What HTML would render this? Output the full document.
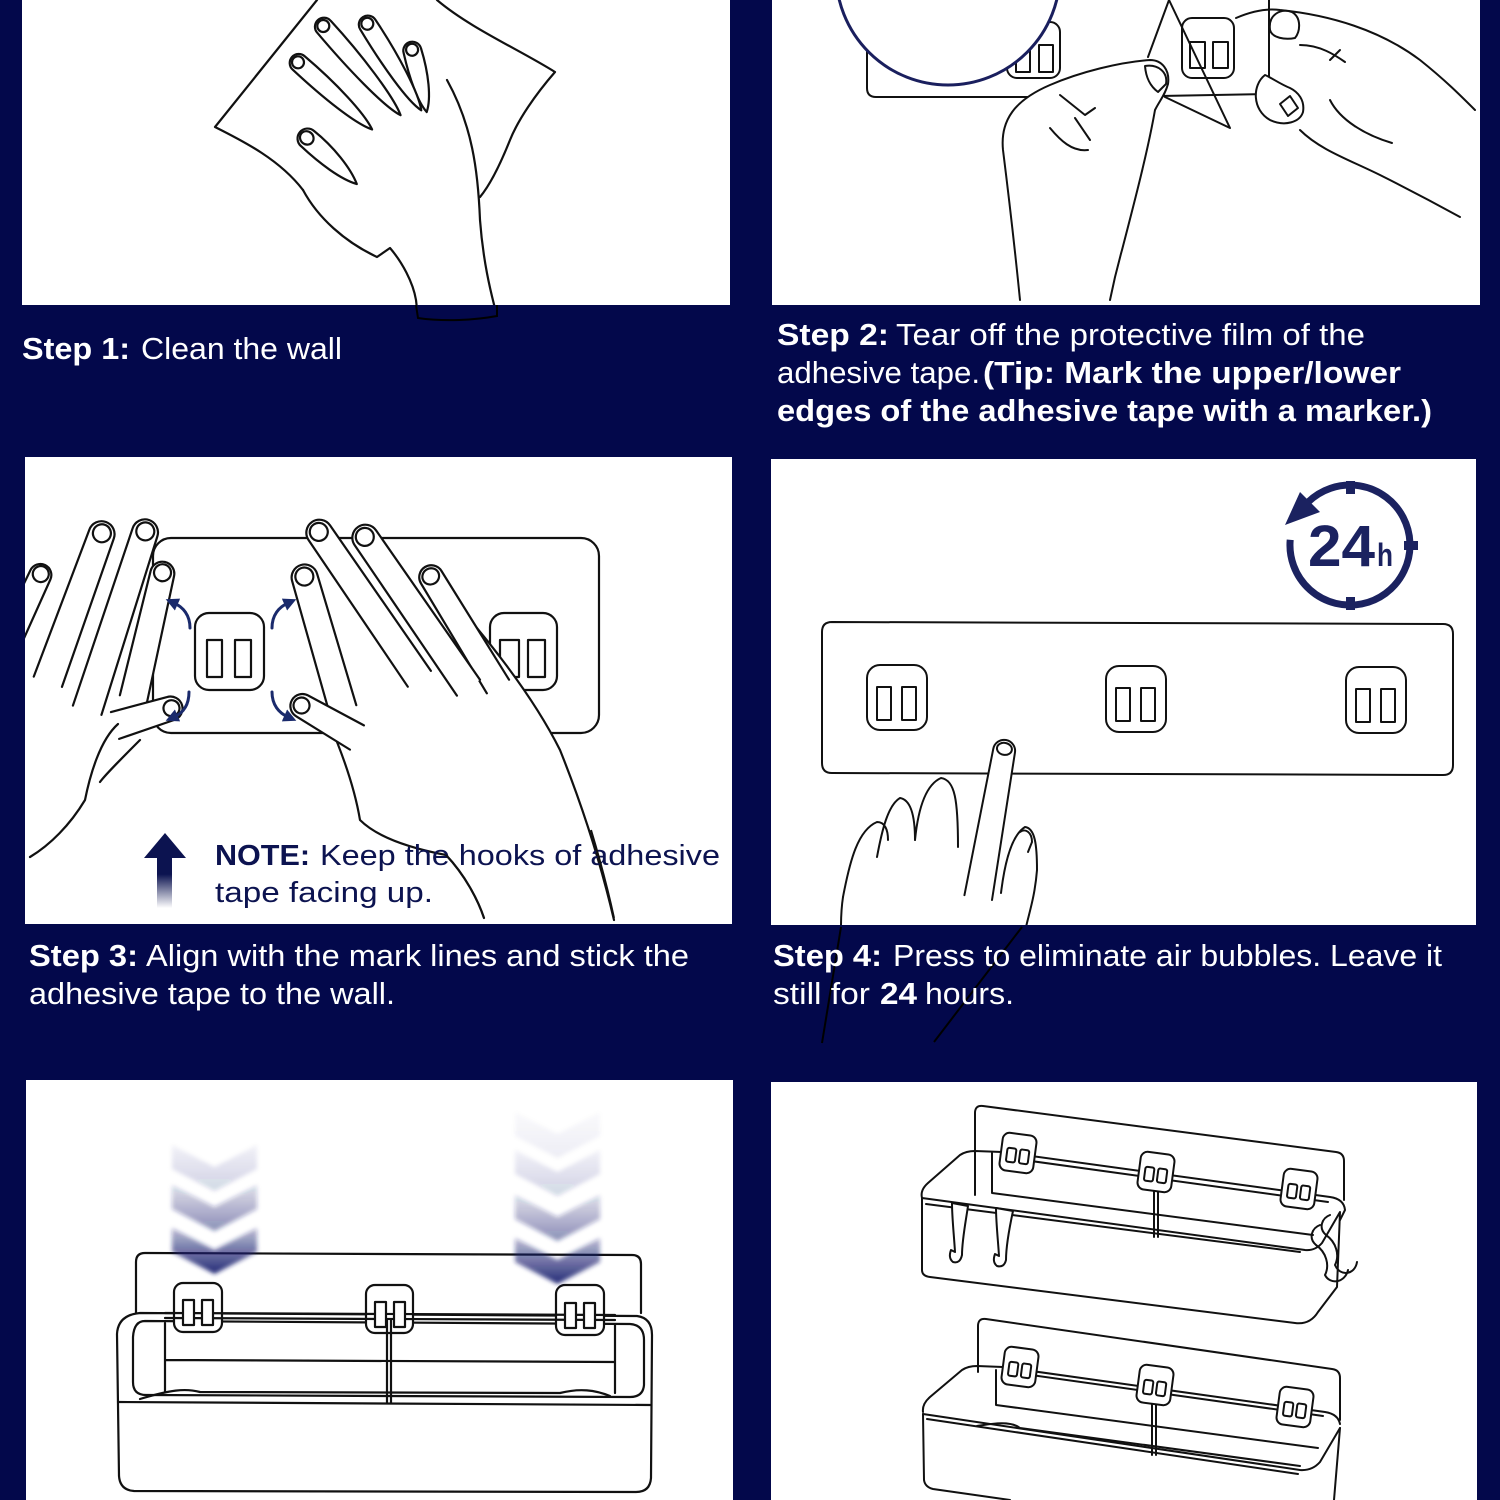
<!DOCTYPE html>
<html><head><meta charset="utf-8"><style>
html,body{margin:0;padding:0;background:#03084b;}
svg{display:block}
</style></head><body>
<svg width="1500" height="1500" viewBox="0 0 1500 1500" xmlns="http://www.w3.org/2000/svg">
<defs>
 <linearGradient id="ag" x1="0" y1="0" x2="0" y2="1"><stop offset="0" stop-color="#0c1350"/><stop offset="0.35" stop-color="#0c1350"/><stop offset="1" stop-color="#0c1350" stop-opacity="0"/></linearGradient>
 <linearGradient id="cg" x1="0" y1="0" x2="0" y2="1"><stop offset="0" stop-color="#1a2070" stop-opacity="0.3"/><stop offset="1" stop-color="#1a2070" stop-opacity="1"/></linearGradient>
 <filter id="bl" x="-20%" y="-20%" width="140%" height="140%"><feGaussianBlur stdDeviation="2.2"/></filter>
 <marker id="ah" viewBox="0 0 10 10" refX="3" refY="5" markerWidth="13" markerHeight="13" markerUnits="userSpaceOnUse" orient="auto"><path d="M0,0 L10,5 L0,10 Z" fill="#1a2a6c"/></marker>
 <clipPath id="c1"><rect x="22" y="0" width="708" height="305"/></clipPath>
 <clipPath id="c2"><rect x="772" y="0" width="708" height="305"/></clipPath>
 <clipPath id="c3"><rect x="25" y="457" width="707" height="467"/></clipPath>
 <clipPath id="c4"><rect x="771" y="459" width="705" height="466"/></clipPath>
 <clipPath id="c5"><rect x="26" y="1080" width="707" height="420"/></clipPath>
 <clipPath id="c6"><rect x="771" y="1082" width="706" height="418"/></clipPath>
</defs>
<rect width="1500" height="1500" fill="#03084b"/>
<rect x="22" y="0" width="708" height="305" fill="#fff"/>
<rect x="772" y="0" width="708" height="305" fill="#fff"/>
<rect x="25" y="457" width="707" height="467" fill="#fff"/>
<rect x="771" y="459" width="705" height="466" fill="#fff"/>
<rect x="26" y="1080" width="707" height="420" fill="#fff"/>
<rect x="771" y="1082" width="706" height="418" fill="#fff"/>

<!-- ================= PANEL 1 ================= -->
<g clip-path="url(#c1)" fill="none" stroke="#111" stroke-width="2.2" stroke-linecap="round" stroke-linejoin="round">
 <path d="M317,0 L215,127 C245,142 280,160 303,190"/>
 <path d="M437,0 C470,28 520,50 555,72 C535,95 518,120 510,140 C500,165 490,185 480,197"/>
 <path d="M303,190 C318,218 345,242 377,257 L390,248 C402,262 413,282 416,300 L418,318 C445,322 475,320 497,316 C490,290 483,260 480,220 C478,170 472,125 447,80"/>
 <g fill="#fff">
  <g transform="translate(410,42) rotate(75)"><path d="M9,-9 A9,9 0 0,0 9,9 C35,10 60,8 72,2 C60,-6 35,-10 9,-9Z"/><ellipse cx="8" cy="0" rx="6" ry="6"/></g>
  <g transform="translate(363,17) rotate(57.5)"><path d="M9,-9 A9,9 0 0,0 9,9 C50,10 95,8 110,1 C95,-6 50,-10 9,-9Z"/><ellipse cx="8" cy="0" rx="6" ry="6"/></g>
  <g transform="translate(318,20) rotate(48.6)"><path d="M9,-9 A9,9 0 0,0 9,9 C55,10 108,8 126,1 C108,-6 55,-10 9,-9Z"/><ellipse cx="8" cy="0" rx="6" ry="6"/></g>
  <g transform="translate(292,57) rotate(41.6)"><path d="M9,-9 A9,9 0 0,0 9,9 C50,10 92,8 108,1 C92,-6 50,-10 9,-9Z"/><ellipse cx="8" cy="0" rx="6" ry="6"/></g>
  <g transform="translate(300,132) rotate(41)"><path d="M10,-10 A10,10 0 0,0 10,10 C35,11 62,9 77,2 C62,-6 35,-11 10,-10Z"/><ellipse cx="9" cy="0" rx="7" ry="6.5"/></g>
 </g>
</g>

<!-- ================= PANEL 2 ================= -->
<g clip-path="url(#c2)" fill="none" stroke="#111" stroke-width="2" stroke-linecap="round" stroke-linejoin="round">
 <path d="M867,50 L867,88 Q867,97 876,97 L1035,97"/>
 <path d="M1160,96 L1268,94"/>
 <rect x="1007" y="22" width="53" height="56" rx="10"/>
 <rect x="1016" y="45" width="14" height="27"/><rect x="1039" y="45" width="14" height="27"/>
 <rect x="1182" y="18" width="52" height="60" rx="10"/>
 <rect x="1190" y="42" width="15" height="26"/><rect x="1213" y="42" width="15" height="26"/>
 <circle cx="948" cy="-27" r="112" fill="#fff" stroke="#1a1f5e" stroke-width="3"/>
 <path d="M1169,0 L1230,128 L1165,97 M1169,0 L1148,57"/>
 <path d="M1269,0 L1269,100"/>
 <path fill="#fff" d="M1020,300 C1015,250 1008,190 1003,150 C1000,120 1015,100 1050,85 C1080,72 1120,62 1150,60 C1162,60 1170,70 1168,84 C1165,95 1160,100 1155,110 C1148,150 1135,200 1122,250 C1115,275 1112,290 1110,300"/>
 <path d="M1145,66 C1158,64 1168,72 1166,84 L1158,92 C1150,86 1146,78 1145,66Z"/>
 <path d="M1060,95 L1085,115 L1095,108 M1075,118 L1090,140 M1050,128 C1060,140 1072,152 1088,150"/>
 <path d="M1236,18 C1250,12 1265,8 1280,10 C1330,15 1380,30 1420,60 C1445,80 1460,95 1475,110"/>
 <path fill="#fff" d="M1270,30 C1268,15 1280,8 1292,12 C1302,18 1300,32 1295,38 C1285,40 1272,38 1270,30Z"/>
 <path fill="#fff" d="M1265,75 C1252,85 1252,110 1270,120 C1285,127 1300,122 1303,112 C1305,100 1298,92 1290,88 C1280,84 1272,78 1265,75Z"/>
 <path d="M1280,104 L1290,96 L1298,108 L1288,116 Z"/>
 <path d="M1300,130 C1320,150 1350,160 1380,175 C1400,185 1420,195 1460,217"/>
 <path d="M1330,100 C1340,120 1365,135 1392,143"/>
 <path d="M1300,45 C1320,45 1335,55 1345,62 M1330,60 L1340,50"/>
</g>

<!-- ================= PANEL 3 ================= -->
<g clip-path="url(#c3)" fill="none" stroke="#111" stroke-width="2.2" stroke-linecap="round" stroke-linejoin="round">
 <rect x="153" y="538" width="446" height="195" rx="18"/>
 <rect x="195" y="613" width="69" height="77" rx="14"/>
 <rect x="207" y="640" width="15" height="37"/><rect x="235" y="640" width="16" height="37"/>
 <rect x="490" y="613" width="67" height="77" rx="14"/>
 <rect x="500" y="640" width="19" height="37"/><rect x="528" y="640" width="17" height="37"/>
 <path fill="#fff" stroke="none" d="M316,690 L440,585 C480,630 530,690 560,750 C580,800 600,860 614,924 L484,924 C478,900 465,875 446,855 C420,850 380,840 360,820 C355,790 345,760 330,725 Z"/>
 <path d="M440,585 C480,630 530,690 560,750 C580,800 600,860 614,920"/>
 <path d="M330,725 C345,760 355,790 360,820 C380,840 420,850 446,855 C465,875 478,900 484,918"/>
 <g fill="#fff">
  <g transform="translate(425,567) rotate(58.6)"><path stroke="none" d="M12,-12 A12,12 0 0,0 12,12 L140,13 L140,-13Z"/><path fill="none" d="M140,-13 L12,-12 A12,12 0 0,0 12,12 L140,13"/><ellipse cx="11" cy="0" rx="8" ry="8.5"/></g>
  <g transform="translate(358,527) rotate(55.5)"><path stroke="none" d="M13,-13 A13,13 0 0,0 13,13 L195,14 L195,-14Z"/><path fill="none" d="M195,-14 L13,-13 A13,13 0 0,0 13,13 L195,14"/><ellipse cx="12" cy="0" rx="9" ry="9"/></g>
  <g transform="translate(312,522) rotate(55.6)"><path stroke="none" d="M13,-13 A13,13 0 0,0 13,13 L190,14 L190,-14Z"/><path fill="none" d="M190,-14 L13,-13 A13,13 0 0,0 13,13 L190,14"/><ellipse cx="12" cy="0" rx="9" ry="9"/></g>
  <g transform="translate(301,565) rotate(73.8)"><path stroke="none" d="M13,-13 A13,13 0 0,0 13,13 L150,14 L150,-14Z"/><path fill="none" d="M150,-14 L13,-13 A13,13 0 0,0 13,13 L150,14"/><ellipse cx="12" cy="0" rx="9" ry="9"/></g>
  <g transform="translate(292,700) rotate(30)"><path stroke="none" d="M12,-12 A12,12 0 0,0 12,12 L75,14 L75,-14Z"/><path fill="none" d="M75,-14 L12,-12 A12,12 0 0,0 12,12 L75,14"/><ellipse cx="11" cy="0" rx="8" ry="8"/></g>
  <g transform="translate(45,565) rotate(115)"><path stroke="none" d="M11,-11 A11,11 0 0,0 11,11 L80,12 L80,-12Z"/><path fill="none" d="M80,-12 L11,-11 A11,11 0 0,0 11,11 L80,12"/><ellipse cx="10" cy="0" rx="8" ry="8"/></g>
  <g transform="translate(106,522) rotate(110)"><path stroke="none" d="M13,-13 A13,13 0 0,0 13,13 L170,15 L170,-15Z"/><path fill="none" d="M170,-15 L13,-13 A13,13 0 0,0 13,13 L170,15"/><ellipse cx="12" cy="0" rx="9" ry="9"/></g>
  <g transform="translate(149,520) rotate(108)"><path stroke="none" d="M13,-13 A13,13 0 0,0 13,13 L200,15 L200,-15Z"/><path fill="none" d="M200,-15 L13,-13 A13,13 0 0,0 13,13 L200,15"/><ellipse cx="12" cy="0" rx="9" ry="9"/></g>
  <g transform="translate(165,562) rotate(103)"><path stroke="none" d="M12,-12 A12,12 0 0,0 12,12 L140,14 L140,-14Z"/><path fill="none" d="M140,-14 L12,-12 A12,12 0 0,0 12,12 L140,14"/><ellipse cx="11" cy="0" rx="8.5" ry="8.5"/></g>
  <g transform="translate(182,705) rotate(163)"><path stroke="none" d="M12,-12 A12,12 0 0,0 12,12 L70,14 L70,-14Z"/><path fill="none" d="M70,-14 L12,-12 A12,12 0 0,0 12,12 L70,14"/><ellipse cx="11" cy="0" rx="8" ry="8"/></g>
 </g>
 <path d="M118,724 C100,740 90,775 85,800 C70,825 50,845 30,857"/>
 <path d="M140,740 C120,760 105,775 100,782"/>
</g>
<g fill="none" stroke="#1a2a6c" stroke-width="3" stroke-linecap="round">
 <path d="M190,628 C190,615 183,607 174,603" marker-end="url(#ah)"/>
 <path d="M272,628 C272,615 279,607 288,603" marker-end="url(#ah)"/>
 <path d="M189,692 C189,705 183,713 174,717" marker-end="url(#ah)"/>
 <path d="M272,692 C272,705 279,713 288,717" marker-end="url(#ah)"/>
</g>
<polygon points="144,858 165,833 186,858" fill="#0c1350"/>
<rect x="157" y="856" width="15" height="52" fill="url(#ag)"/>

<!-- ================= PANEL 4 ================= -->
<g clip-path="url(#c4)" fill="none" stroke="#111" stroke-width="2" stroke-linecap="round" stroke-linejoin="round">
 <path d="M832,622 L1443,624 Q1453,624 1453,634 L1453,765 Q1453,775 1443,775 L832,773 Q822,773 822,763 L822,632 Q822,622 832,622 Z"/>
 <rect x="867" y="665" width="60" height="65" rx="13"/>
 <rect x="877" y="687" width="14" height="33"/><rect x="902" y="687" width="14" height="33"/>
 <rect x="1106" y="666" width="60" height="66" rx="13"/>
 <rect x="1116" y="688" width="14" height="33"/><rect x="1141" y="688" width="14" height="33"/>
 <rect x="1346" y="667" width="60" height="66" rx="13"/>
 <rect x="1356" y="689" width="14" height="33"/><rect x="1381" y="689" width="14" height="33"/>
 <g transform="translate(1006,740) rotate(100)"><path fill="#fff" stroke="none" d="M11,-11 A11,11 0 0,0 11,11 L160,14 L160,-14Z"/><path d="M160,-14 L11,-11 A11,11 0 0,0 11,11 L160,14"/><ellipse cx="9" cy="0" rx="6" ry="7.5"/></g>
 <path fill="#fff" d="M915,840 C918,810 925,785 941,778 C955,780 958,800 958,847"/>
 <path fill="#fff" d="M877,857 C882,830 888,805 900,798 C912,800 915,820 915,840"/>
 <path d="M843,897 C850,860 858,830 877,822 C885,822 888,830 888,840"/>
 <path d="M843,897 C841,910 841,920 841,927"/>
 <path d="M1001,893 C1005,860 1012,835 1025,827 C1035,828 1037,845 1037,870 C1035,895 1030,910 1026,927"/>
 <path d="M1020,832 C1025,828 1032,832 1032,842 L1028,852"/>
</g>
<g fill="none" stroke="#000" stroke-width="2">
 <path d="M841,927 L822,1043"/>
 <path d="M1022,927 L934,1042"/>
</g>
<g fill="none" stroke="#1b2260" stroke-width="7">
 <path d="M1308.3,501.9 A60,60 0 1,1 1290.2,539.8"/>
</g>
<g fill="#1b2260">
 <polygon points="1285,525 1300,492 1320,512"/>
 <rect x="1346" y="481" width="9" height="13"/>
 <rect x="1346" y="597" width="9" height="13"/>
 <rect x="1404" y="541" width="14" height="9"/>
 <text x="1308" y="566" font-family="Liberation Sans, sans-serif" font-weight="bold" font-size="58" textLength="67" lengthAdjust="spacingAndGlyphs">24</text>
 <text x="1377" y="566" font-family="Liberation Sans, sans-serif" font-weight="bold" font-size="32" textLength="16" lengthAdjust="spacingAndGlyphs">h</text>
</g>

<!-- ================= PANEL 5 ================= -->
<g clip-path="url(#c5)" fill="none" stroke="#111" stroke-width="2.2" stroke-linecap="round" stroke-linejoin="round">
 <path d="M136,1318 L136,1262 Q136,1253 145,1253 L632,1255 Q641,1255 641,1264 L641,1313"/>
 <path fill="#fff" d="M140,1313 L637,1316 Q652,1318 652,1335 L651,1478 Q650,1492 636,1492 L134,1491 Q120,1490 119,1476 L117,1334 Q118,1315 140,1313 Z"/>
 <path d="M145,1321 L630,1324 Q644,1325 644,1340 L644,1385 Q643,1397 630,1397 L146,1395 Q133,1395 133,1382 L133,1337 Q134,1321 145,1321 Z"/>
 <path d="M118,1402 L651,1405"/>
 <path d="M140,1399 C170,1390 185,1388 200,1392 L560,1393 C580,1388 595,1390 610,1396"/>
 <path d="M165,1323 L165,1392 M615,1325 L615,1393 M165,1360 L615,1362"/>
 <rect x="174" y="1283" width="48" height="49" rx="9" fill="#fff"/>
 <rect x="366" y="1285" width="47" height="48" rx="9" fill="#fff"/>
 <rect x="556" y="1285" width="48" height="50" rx="9" fill="#fff"/>
 <path d="M165,1313 L615,1315 M165,1318 L615,1320"/>
 <rect x="183" y="1300" width="11" height="25" fill="#fff"/><rect x="202" y="1300" width="11" height="25" fill="#fff"/>
 <rect x="375" y="1302" width="11" height="25" fill="#fff"/><rect x="394" y="1302" width="11" height="25" fill="#fff"/>
 <rect x="565" y="1303" width="11" height="25" fill="#fff"/><rect x="584" y="1303" width="11" height="25" fill="#fff"/>
 <path d="M387,1320 L387,1403 M391,1320 L391,1403"/>
</g>
<g filter="url(#bl)" fill="url(#cg)">
 <polygon points="172,1145 214.5,1167 257,1145 257,1169 214.5,1191 172,1169" opacity="0.18"/>
 <polygon points="172,1185 214.5,1207 257,1185 257,1209 214.5,1231 172,1209" opacity="0.5"/>
 <polygon points="172,1228 214.5,1250 257,1228 257,1252 214.5,1274 172,1252" opacity="0.95"/>
 <polygon points="515,1112 557.5,1134 600,1112 600,1136 557.5,1158 515,1136" opacity="0.07"/>
 <polygon points="515,1150 557.5,1172 600,1150 600,1174 557.5,1196 515,1174" opacity="0.18"/>
 <polygon points="515,1195 557.5,1217 600,1195 600,1219 557.5,1241 515,1219" opacity="0.5"/>
 <polygon points="515,1238 557.5,1260 600,1238 600,1262 557.5,1284 515,1262" opacity="0.95"/>
</g>

<!-- ================= PANEL 6 ================= -->
<g clip-path="url(#c6)" fill="none" stroke="#111" stroke-width="2" stroke-linecap="round" stroke-linejoin="round">
 <path d="M975,1195 L975,1113 Q975,1105 983,1106 L1336,1152 Q1344,1153 1344,1161 L1344,1200"/>
 <path d="M992,1153 L992,1193 L1313,1235"/>
 <path fill="#fff" d="M922,1198 L922,1270 Q922,1276 930,1277 L1295,1323 Q1310,1325 1318,1312 L1337,1287 L1340,1212 L1322,1243 Q1315,1251 1305,1250 Z"/>
 <path d="M926,1204 L1300,1252"/>
 <path d="M922,1198 Q920,1190 928,1183 L960,1155 Q966,1151 975,1151 L1002,1152"/>
 <path d="M1002,1152 L1330,1197 Q1344,1199 1345,1210 L1340,1220 M1002,1157 L1328,1202"/>
 <path d="M1154,1178 L1154,1237 M1158,1178 L1158,1237"/>
 <g transform="translate(1018,1153) rotate(7.5)"><rect x="-17" y="-19" width="34" height="38" rx="7" fill="#fff"/><rect x="-11" y="-4" width="9" height="14" rx="2" fill="#fff"/><rect x="2" y="-4" width="9" height="14" rx="2" fill="#fff"/></g>
 <g transform="translate(1156,1172) rotate(7.5)"><rect x="-17" y="-19" width="34" height="38" rx="7" fill="#fff"/><rect x="-11" y="-4" width="9" height="14" rx="2" fill="#fff"/><rect x="2" y="-4" width="9" height="14" rx="2" fill="#fff"/></g>
 <g transform="translate(1299,1189) rotate(7.5)"><rect x="-17" y="-19" width="34" height="38" rx="7" fill="#fff"/><rect x="-11" y="-4" width="9" height="14" rx="2" fill="#fff"/><rect x="2" y="-4" width="9" height="14" rx="2" fill="#fff"/></g>
 <path fill="#fff" d="M952,1203 L968,1206 C966,1220 962,1240 962,1255 Q960,1264 953,1262 Q948,1258 951,1250 L955,1252 C954,1235 952,1218 952,1203Z"/>
 <path fill="#fff" d="M996,1208 L1013,1211 C1010,1225 1006,1245 1006,1260 Q1004,1268 997,1266 Q992,1262 995,1254 L999,1256 C998,1240 996,1222 996,1208Z"/>
 <path d="M1320,1225 C1312,1228 1308,1238 1316,1245 C1326,1252 1330,1265 1325,1275 C1330,1285 1345,1283 1348,1270"/>
 <path d="M1330,1215 C1322,1218 1318,1228 1326,1235 C1336,1242 1340,1255 1335,1265 C1340,1277 1355,1275 1357,1262"/>
 <path d="M978,1372 L978,1326 Q978,1318 986,1319 L1332,1369 Q1340,1370 1340,1378 L1340,1420"/>
 <path d="M996,1370 L996,1405 L1318,1448"/>
 <path d="M977,1426 C990,1424 1010,1420 1020,1428 L1300,1466"/>
 <path d="M923,1412 Q922,1404 930,1397 L962,1370 Q968,1366 977,1366 L1003,1367"/>
 <path d="M1003,1367 L1325,1412 Q1338,1414 1340,1424 M1003,1371 L1323,1416"/>
 <path d="M923,1414 L1300,1470 Q1312,1471 1320,1462 L1340,1428"/>
 <path d="M927,1419 L1298,1474"/>
 <path d="M923,1414 L924,1480 Q925,1487 933,1489 L1010,1500"/>
 <path d="M1340,1428 L1334,1500"/>
 <path d="M1152,1393 L1152,1455 M1156,1393 L1156,1455"/>
 <g transform="translate(1020,1367) rotate(7.5)"><rect x="-17" y="-19" width="34" height="38" rx="7" fill="#fff"/><rect x="-11" y="-4" width="9" height="14" rx="2" fill="#fff"/><rect x="2" y="-4" width="9" height="14" rx="2" fill="#fff"/></g>
 <g transform="translate(1155,1385) rotate(7.5)"><rect x="-17" y="-19" width="34" height="38" rx="7" fill="#fff"/><rect x="-11" y="-4" width="9" height="14" rx="2" fill="#fff"/><rect x="2" y="-4" width="9" height="14" rx="2" fill="#fff"/></g>
 <g transform="translate(1295,1407) rotate(7.5)"><rect x="-17" y="-19" width="34" height="38" rx="7" fill="#fff"/><rect x="-11" y="-4" width="9" height="14" rx="2" fill="#fff"/><rect x="2" y="-4" width="9" height="14" rx="2" fill="#fff"/></g>
</g>
<g fill="none" stroke="#000" stroke-width="2">
 <path d="M416,305 L418,318 C445,322 475,320 497,316 L497,305"/>
</g>

<!-- ================= TEXT ================= -->
<g font-family="Liberation Sans, sans-serif" font-size="31" fill="#fff">
 <text x="22" y="359" font-weight="bold" textLength="108" lengthAdjust="spacingAndGlyphs">Step 1:</text>
 <text x="141" y="359" textLength="201" lengthAdjust="spacingAndGlyphs">Clean the wall</text>

 <text x="777" y="345" font-weight="bold" textLength="112" lengthAdjust="spacingAndGlyphs">Step 2:</text>
 <text x="896" y="345" textLength="469" lengthAdjust="spacingAndGlyphs">Tear off the protective film of the</text>
 <text x="777" y="383" textLength="203" lengthAdjust="spacingAndGlyphs">adhesive tape.</text>
 <text x="983" y="383" font-weight="bold" textLength="418" lengthAdjust="spacingAndGlyphs">(Tip: Mark the upper/lower</text>
 <text x="777" y="421" font-weight="bold" textLength="655" lengthAdjust="spacingAndGlyphs">edges of the adhesive tape with a marker.)</text>

 <text x="29" y="966" font-weight="bold" textLength="109" lengthAdjust="spacingAndGlyphs">Step 3:</text>
 <text x="146" y="966" textLength="543" lengthAdjust="spacingAndGlyphs">Align with the mark lines and stick the</text>
 <text x="29" y="1004" textLength="366" lengthAdjust="spacingAndGlyphs">adhesive tape to the wall.</text>

 <text x="773" y="966" font-weight="bold" textLength="109" lengthAdjust="spacingAndGlyphs">Step 4:</text>
 <text x="893" y="966" textLength="549" lengthAdjust="spacingAndGlyphs">Press to eliminate air bubbles. Leave it</text>
 <text x="773" y="1004" textLength="97" lengthAdjust="spacingAndGlyphs">still for</text>
 <text x="880" y="1004" font-weight="bold" textLength="37" lengthAdjust="spacingAndGlyphs">24</text>
 <text x="925" y="1004" textLength="89" lengthAdjust="spacingAndGlyphs">hours.</text>
</g>
<g font-family="Liberation Sans, sans-serif" font-size="29" fill="#0c1350">
 <text x="215" y="865" font-weight="bold" textLength="95" lengthAdjust="spacingAndGlyphs">NOTE:</text>
 <text x="320" y="865" textLength="400" lengthAdjust="spacingAndGlyphs">Keep the hooks of adhesive</text>
 <text x="215" y="902" textLength="218" lengthAdjust="spacingAndGlyphs">tape facing up.</text>
</g>
<g fill="none" stroke="#111" stroke-width="2">
 <path d="M446,855 C465,875 478,900 484,918"/>
 <path d="M591,830 C600,860 608,890 614,918"/>
</g>
</svg>
</body></html>
